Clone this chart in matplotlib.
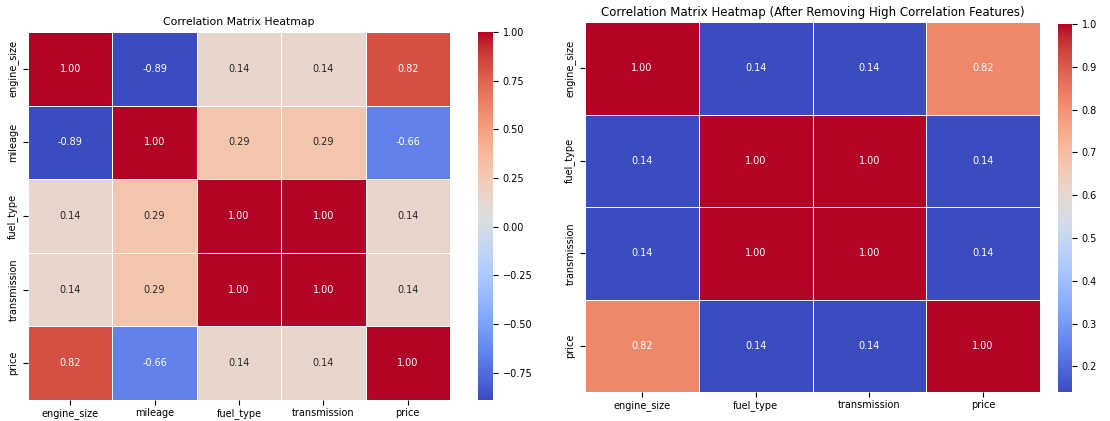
import numpy as np
import matplotlib
matplotlib.use('Agg')
import matplotlib.pyplot as plt
import seaborn as sns

# full correlation matrix
features = ['engine_size', 'mileage', 'fuel_type', 'transmission', 'price']
corr_full = [
    [1.00, -0.89, 0.14, 0.14, 0.82],
    [-0.89, 1.00, 0.29, 0.29, -0.66],
    [0.14, 0.29, 1.00, 1.00, 0.14],
    [0.14, 0.29, 1.00, 1.00, 0.14],
    [0.82, -0.66, 0.14, 0.14, 1.00],
]

# after dropping mileage
features_red = ['engine_size', 'fuel_type', 'transmission', 'price']
corr_red = [
    [1.00, 0.14, 0.14, 0.82],
    [0.14, 1.00, 1.00, 0.14],
    [0.14, 1.00, 1.00, 0.14],
    [0.82, 0.14, 0.14, 1.00],
]

W, H = 1110, 421
fig = plt.figure(figsize=(W / 100, H / 100), dpi=100)

def box(x0, y0, x1, y1):
    return [x0 / W, 1 - y1 / H, (x1 - x0) / W, (y1 - y0) / H]

ax1 = fig.add_axes(box(28, 32, 450, 400))
cax1 = fig.add_axes(box(478, 32, 493, 400))
ax2 = fig.add_axes(box(585, 22, 1040, 392))
cax2 = fig.add_axes(box(1058, 24, 1072, 392))

fs = 7
sns.heatmap(np.array(corr_full), ax=ax1, cbar_ax=cax1, annot=True, fmt='.2f',
            cmap='coolwarm', linewidths=0.5, linecolor='white',
            xticklabels=features, yticklabels=features,
            annot_kws={'size': fs})
ax1.set_title('Correlation Matrix Heatmap', fontsize=7.8, pad=5)

sns.heatmap(np.array(corr_red), ax=ax2, cbar_ax=cax2, annot=True, fmt='.2f',
            cmap='coolwarm', linewidths=0.5, linecolor='white',
            xticklabels=features_red, yticklabels=features_red,
            annot_kws={'size': fs})
ax2.set_title('Correlation Matrix Heatmap (After Removing High Correlation Features)',
              fontsize=8.5, pad=4)

for a in (ax1, ax2):
    a.tick_params(labelsize=fs)
    a.tick_params(axis='x', pad=2)
    a.set_xticklabels(a.get_xticklabels(), rotation=0)
    a.set_yticklabels(a.get_yticklabels(), rotation=90, va='center')
for c in (cax1, cax2):
    c.tick_params(labelsize=fs)

fig.savefig('out.png', dpi=100)
